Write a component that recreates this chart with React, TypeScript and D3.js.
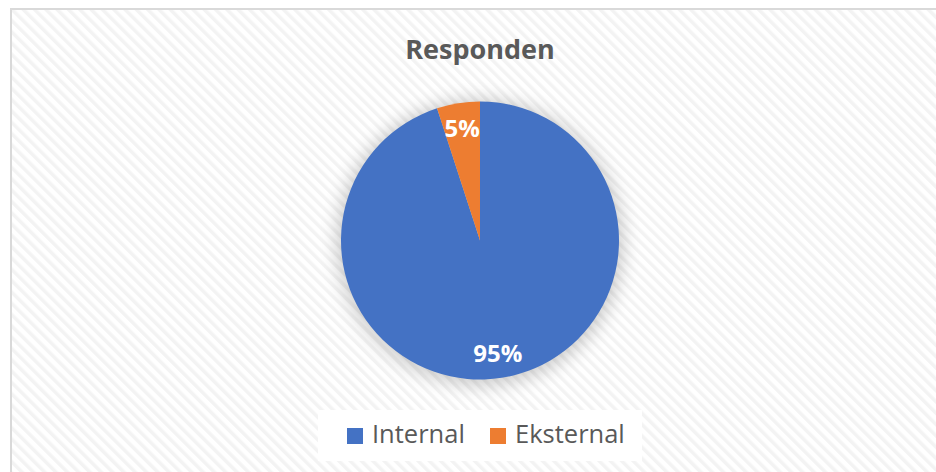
import React from "react";
import * as d3 from "d3";

const categories = ["Internal", "Eksternal"];
const values = [95, 5];
const colors = ["#4472C4", "#ED7D31"];
const title = "Responden";

const W = 936;
const H = 472;
const cx = 480;
const cy = 240.5;
const R = 139;

export default function App() {
  const pie = d3
    .pie<number>()
    .sort(null)
    .startAngle(0)
    .endAngle(2 * Math.PI)
    .value((d) => d);
  const arcs = pie(values);
  const arc = d3.arc<d3.PieArcDatum<number>>().innerRadius(0).outerRadius(R);
  const labelArc = d3
    .arc<d3.PieArcDatum<number>>()
    .innerRadius(R * 0.82 * 2)
    .outerRadius(0);
  const total = d3.sum(values);
  const font = "'Open Sans', 'Noto Sans', sans-serif";

  const legendX = [347, 490];

  return (
    <svg
      width={W}
      height={H}
      style={{ position: "absolute", left: 0, top: 0, display: "block" }}
    >
      <defs>
        <pattern
          id="diag"
          width="8"
          height="8"
          patternUnits="userSpaceOnUse"
          patternTransform="rotate(-45)"
        >
          <rect width="8" height="8" fill="#ffffff" />
          <rect width="3.5" height="8" fill="#f3f3f3" />
        </pattern>
        <filter id="glow" x="-30%" y="-30%" width="160%" height="160%">
          <feGaussianBlur stdDeviation="9" />
        </filter>
      </defs>
      <rect x={0} y={0} width={W} height={H} fill="#ffffff" />
      <rect
        x={11}
        y={9}
        width={W + 40}
        height={H + 40}
        fill="url(#diag)"
        stroke="#d9d9d9"
        strokeWidth={2}
      />
      <text
        x={cx}
        y={59}
        textAnchor="middle"
        fontFamily={font}
        fontWeight="bold"
        fontSize={27}
        fill="#595959"
      >
        {title}
      </text>
      <circle cx={cx} cy={cy + 2} r={R + 4} fill="#000" opacity={0.2} filter="url(#glow)" />
      <g transform={`translate(${cx},${cy})`}>
        {arcs.map((a, i) => (
          <path key={categories[i]} d={arc(a) || ""} fill={colors[i]} />
        ))}
        {arcs.map((a, i) => {
          const [lx, ly] = labelArc.centroid(a);
          return (
            <text
              key={"l" + i}
              x={lx}
              y={ly}
              dy="0.36em"
              textAnchor="middle"
              fontFamily={font}
              fontWeight="bold"
              fontSize={24}
              fill="#ffffff"
            >
              {Math.round((values[i] / total) * 100) + "%"}
            </text>
          );
        })}
      </g>
      <rect x={318} y={410} width={324} height={51} fill="#ffffff" />
      {categories.map((c, i) => (
        <g key={c}>
          <rect x={legendX[i]} y={428} width={16} height={16} fill={colors[i]} />
          <text
            x={legendX[i] + 25}
            y={443}
            fontFamily={font}
            fontSize={25.5}
            fill="#595959"
          >
            {c}
          </text>
        </g>
      ))}
    </svg>
  );
}
